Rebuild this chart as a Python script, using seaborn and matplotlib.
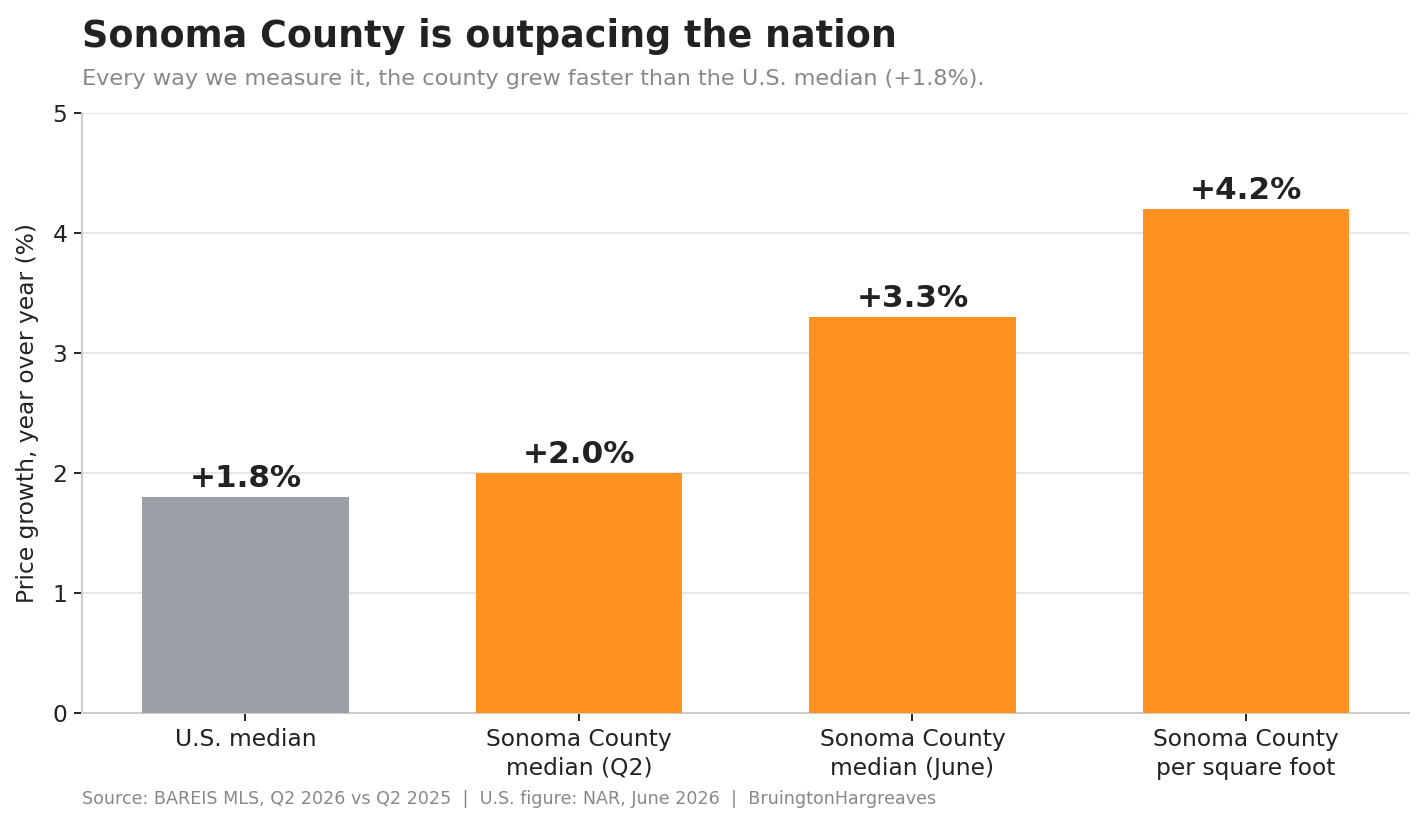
import pandas as pd
import matplotlib.pyplot as plt
import seaborn as sns

categories = ["U.S. median", "Sonoma County\nmedian (Q2)",
              "Sonoma County\nmedian (June)", "Sonoma County\nper square foot"]
growth = [1.8, 2.0, 3.3, 4.2]
bar_colors = ["#9C9FA5", "#FF9220", "#FF9220", "#FF9220"]

df = pd.DataFrame({"category": categories, "growth": growth})

sns.set_theme(style="ticks")
plt.rcParams["font.family"] = ["DejaVu Sans"]

fig = plt.figure(figsize=(10.2, 5.893), dpi=140)
ax = fig.add_axes([0.0574, 0.1358, 0.9296, 0.7272])

sns.barplot(data=df, x="category", y="growth", hue="category",
            palette=bar_colors, width=0.62, legend=False, ax=ax,
            saturation=1, linewidth=0, zorder=3)

# value labels on top of bars
for container in ax.containers:
    ax.bar_label(container, labels=[f"+{v:.1f}%" for v in container.datavalues],
                 padding=2, fontsize=16, fontweight="bold", color="#222222")

ax.set_ylim(0, 5)
ax.set_xlim(-0.49, 3.49)
ax.set_yticks([0, 1, 2, 3, 4, 5])
ax.yaxis.grid(True, color="#E6E6E6", linewidth=1, zorder=0)
ax.set_axisbelow(True)
ax.set_xlabel("")
ax.set_ylabel("Price growth, year over year (%)", fontsize=12, color="#222222", labelpad=7)
ax.tick_params(axis="both", labelsize=12, colors="#222222", length=4, width=1)
for lbl in ax.get_xticklabels():
    lbl.set_linespacing(1.35)
for s in ["top", "right"]:
    ax.spines[s].set_visible(False)
for s in ["left", "bottom"]:
    ax.spines[s].set_color("#CCCCCC")
    ax.spines[s].set_linewidth(1)

fig.text(0.0574, 0.943, "Sonoma County is outpacing the nation",
         fontsize=18.8, fontweight="bold", color="#222222", ha="left", va="baseline")
fig.text(0.0574, 0.897, "Every way we measure it, the county grew faster than the U.S. median (+1.8%).",
         fontsize=11.5, color="#888888", ha="left", va="baseline")
fig.text(0.0574, 0.026,
         "Source: BAREIS MLS, Q2 2026 vs Q2 2025  |  U.S. figure: NAR, June 2026  |  BruingtonHargreaves",
         fontsize=9, color="#888888", ha="left", va="baseline")

fig.savefig("out.png", dpi=140)
